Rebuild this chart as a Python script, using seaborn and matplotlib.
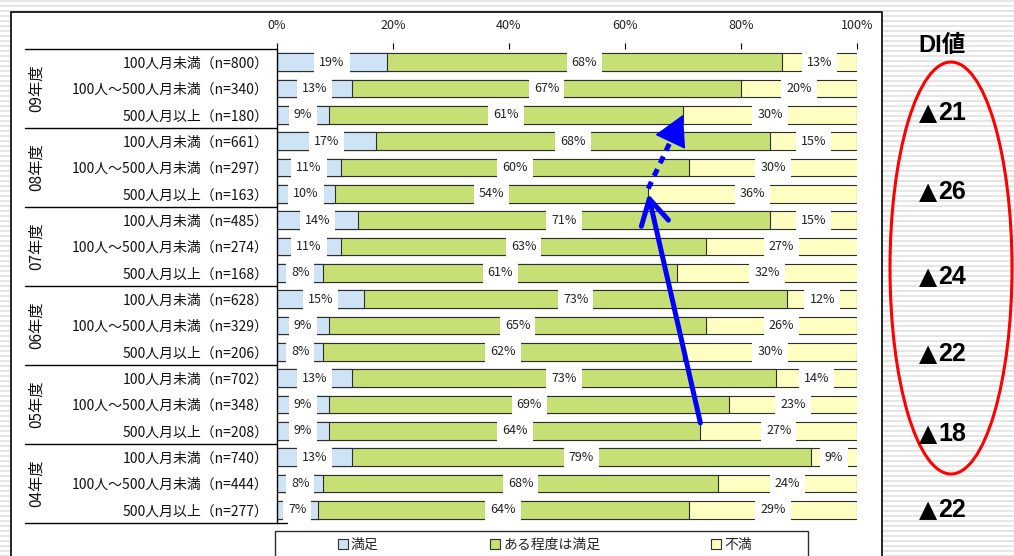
import numpy as np
import pandas as pd
import matplotlib
matplotlib.use("Agg")
import matplotlib.pyplot as plt
from matplotlib.patches import Rectangle, Ellipse, Patch
import matplotlib.transforms as mtransforms
import seaborn as sns

# ---- data -------------------------------------------------------------
years = ["09年度", "08年度", "07年度", "06年度", "05年度", "04年度"]
sizes = ["100人月未満", "100人～500人月未満", "500人月以上"]
n_counts = [800, 340, 180, 661, 297, 163, 485, 274, 168,
            628, 329, 206, 702, 348, 208, 740, 444, 277]
satisfied = [19, 13, 9, 17, 11, 10, 14, 11, 8, 15, 9, 8, 13, 9, 9, 13, 8, 7]
somewhat = [68, 67, 61, 68, 60, 54, 71, 63, 61, 73, 65, 62, 73, 69, 64, 79, 68, 64]
dissatisfied = [13, 20, 30, 15, 30, 36, 15, 27, 32, 12, 26, 30, 14, 23, 27, 9, 24, 29]
legend_labels = ["満足", "ある程度は満足", "不満"]
di_values = [21, 26, 24, 22, 18, 22]
x_ticks = [0, 20, 40, 60, 80, 100]

# ---- styling ----------------------------------------------------------
sns.set_style("white")
plt.rcParams["font.family"] = ["Noto Sans CJK JP", "DejaVu Sans"]
C_BLUE = "#cfe3f7"
C_GREEN = "#c6e076"
C_YELLOW = "#ffffc2"
C_EDGE = "#2e2e2e"
C_ARROW = "#0000ff"

row_labels = [f"{sizes[i % 3]}（n={n}）" for i, n in enumerate(n_counts)]
df = pd.DataFrame({
    "row": row_labels,
    "sat": satisfied,
    "some": somewhat,
    "dis": dissatisfied,
})
df["cum1"] = df["sat"]
df["cum2"] = df["sat"] + df["some"]
df["cum3"] = df["cum2"] + df["dis"]

W, H = 1014, 556
fig = plt.figure(figsize=(W / 100, H / 100), dpi=100)

# slide background with fine horizontal stripes
bg = fig.add_axes([0, 0, 1, 1], zorder=0)
bg.set_xlim(0, W)
bg.set_ylim(H, 0)
bg.axis("off")
stripe = np.array([[0.9], [0.9], [1.0], [1.0], [1.0]])
pattern = np.tile(stripe, (H // 5 + 1, 1))[:H]
bg.imshow(pattern, cmap="gray", vmin=0, vmax=1, extent=(0, W, H, 0),
          aspect="auto", interpolation="nearest")
bg.add_patch(Rectangle((11, 12), 871, 560, facecolor="white",
                       edgecolor="black", linewidth=1.2))
bg.add_patch(Rectangle((275, 531), 533, 40, facecolor="white",
                       edgecolor=C_EDGE, linewidth=1.0))

# DI column on the right
bg.text(942, 45, "DI値", ha="center", va="center", fontsize=17,
        fontweight="bold", family=["Liberation Sans", "Noto Sans CJK JP"],
        color="black")
di_y = [111, 190, 275, 352, 432, 508]
for yv, d in zip(di_y, di_values):
    base = yv + 9
    bg.text(937, base, "▲", ha="right", va="baseline", fontsize=17,
            family=["DejaVu Sans"], color="black")
    bg.text(938, base, f"{d}", ha="left", va="baseline", fontsize=18,
            fontweight="bold", family=["Liberation Sans"], color="black")
bg.add_patch(Ellipse((951, 268), 122, 412, facecolor="none",
                     edgecolor="#ff0000", linewidth=2.2))

# ---- main stacked bar chart --------------------------------------------
ax = fig.add_axes([277 / W, 1 - 523 / H, 580 / W, 474 / H], zorder=1)
ax.patch.set_visible(False)

bar_kw = dict(data=df, y="row", orient="h", order=row_labels, width=0.68,
              saturation=1, edgecolor=C_EDGE, linewidth=0.8, ax=ax)
sns.barplot(x="cum3", color=C_YELLOW, **bar_kw)
sns.barplot(x="cum2", color=C_GREEN, **bar_kw)
sns.barplot(x="cum1", color=C_BLUE, **bar_kw)

ax.set_xlim(0, 100)
ax.set_ylim(len(row_labels) - 0.5, -0.5)
ax.set_xlabel("")
ax.set_ylabel("")

# value labels in white boxes
for i, r in df.iterrows():
    segs = [(0, r["cum1"], r["sat"]),
            (r["cum1"], r["cum2"], r["some"]),
            (r["cum2"], min(r["cum3"], 100), r["dis"])]
    for lo, hi, v in segs:
        ax.text((lo + hi) / 2, i, f"{v}%", ha="center", va="center",
                fontsize=9, color="#222222", zorder=5,
                bbox=dict(boxstyle="square,pad=0.4", facecolor="white",
                          edgecolor="none"))

# axes decoration
ax.xaxis.tick_top()
ax.set_xticks(x_ticks)
ax.set_xticklabels([f"{t}%" for t in x_ticks])
ax.tick_params(axis="x", length=4, width=0.8, color="black", pad=8,
               labelsize=9, labelcolor="#222222")
ax.tick_params(axis="y", length=0, pad=6, labelsize=10, labelcolor="#111111")
for side in ["top", "right", "bottom"]:
    ax.spines[side].set_visible(False)
ax.spines["left"].set_color("black")
ax.spines["left"].set_linewidth(1.0)

# year group separators and year labels
trans = mtransforms.blended_transform_factory(ax.transAxes, ax.transData)
for g in range(len(years) + 1):
    yb = g * 3 - 0.5
    x_end = 0.017 if g == len(years) else 0
    ax.plot([-0.434, x_end], [yb, yb], color="black", lw=1.0,
            transform=trans, clip_on=False)
for g, yr in enumerate(years):
    ax.text(-0.414, g * 3 + 1, yr, rotation=90, ha="center", va="center",
            fontsize=11, transform=trans, color="#111111")

# trend arrows for the 500人月以上 groups
row_05, row_08, row_09 = 14, 5, 2
p05 = (df["cum2"][row_05], row_05 - 0.3)
p08 = (df["cum2"][row_08], row_08)
p09 = (df["cum2"][row_09], row_09)

# solid arrow: 05年度 -> 08年度
ax.annotate("", xy=p08, xytext=p05,
            arrowprops=dict(arrowstyle="->,head_length=0.9,head_width=0.5",
                            mutation_scale=20, color=C_ARROW, lw=3.6,
                            shrinkA=0, shrinkB=0),
            annotation_clip=False, zorder=8)

# dashed arrow: 08年度 -> 09年度 (dashed shaft + solid filled head)
start = (p08[0], p08[1] - 0.2)
frac = 0.68
head_base = (start[0] + frac * (p09[0] - start[0]),
             start[1] + frac * (p09[1] - start[1]))
ax.plot([start[0], head_base[0]], [start[1], head_base[1]], color=C_ARROW,
        lw=3.6, linestyle=(0, (1.5, 1.3)), solid_capstyle="butt",
        dash_capstyle="butt", zorder=8, clip_on=False)
ax.annotate("", xy=p09, xytext=head_base,
            arrowprops=dict(arrowstyle="-|>,head_length=1.0,head_width=0.55",
                            mutation_scale=20, color=C_ARROW, lw=1.0,
                            shrinkA=0, shrinkB=0),
            annotation_clip=False, zorder=8)

# legend
handles = [Patch(facecolor=c, edgecolor=C_EDGE, linewidth=0.8)
           for c in (C_BLUE, C_GREEN, C_YELLOW)]
fig.legend(handles, legend_labels, loc="center",
           bbox_to_anchor=(545 / W, 1 - 545 / H), ncol=3, frameon=False,
           fontsize=10, handlelength=0.7, handleheight=0.7,
           handletextpad=0.25, columnspacing=8.0, borderpad=0)

fig.savefig("out.png", dpi=100)
